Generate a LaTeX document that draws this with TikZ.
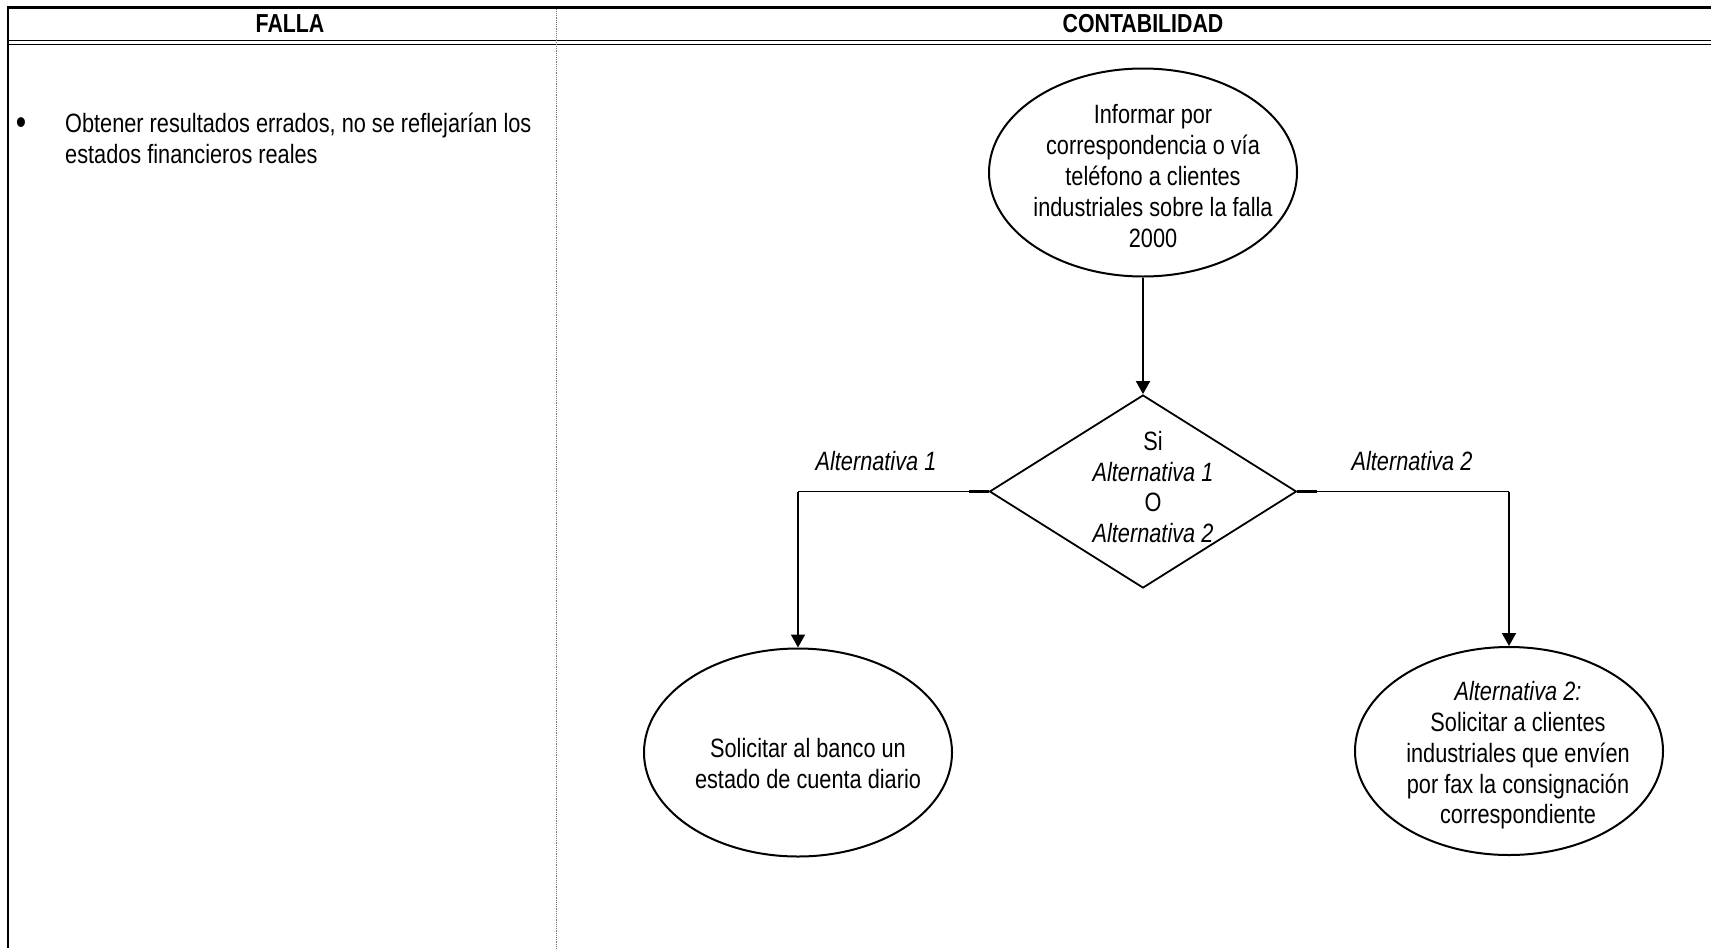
\documentclass[tikz,border=0pt]{standalone}
\usepackage{fontspec}
\setmainfont{Liberation Sans}[FakeStretch=0.82]
\usetikzlibrary{shapes.geometric,arrows.meta}

\begin{document}
\begin{tikzpicture}[x=1pt,y=-1pt,
  every node/.style={inner sep=0pt, font=\fontsize{26.5}{30.8}\selectfont},
  frame/.style={line width=2.5pt, line join=miter},
  rule/.style={line width=1.5pt},
  colsep/.style={line width=1.2pt, densely dotted, black!55},
  headtext/.style={font=\fontsize{26}{30}\selectfont\bfseries},
  bodytext/.style={align=left},
  bulletmark/.style={font=\fontsize{36}{36}\selectfont},
  celltext/.style={align=center},
  alttext/.style={font=\fontsize{26.5}{30.8}\selectfont\itshape},
  procbox/.style={ellipse, draw, line width=2pt, minimum width=308pt, minimum height=208pt},
  decision/.style={diamond, draw, line width=1.8pt, minimum width=307pt, minimum height=193pt},
  arr/.style={line width=1.8pt, -{Triangle[width=14pt,length=13pt]}},
  thinline/.style={line width=1pt},
  stub/.style={line width=2.2pt}
]
\useasboundingbox (0,0) rectangle (1711,948);

% table frame: outer rule, header rules, column separator
\draw[frame] (8,948) -- (8,7.5) -- (1711,7.5);
\draw[rule] (8,40.5) -- (1711,40.5);
\draw[rule] (8,44.5) -- (1711,44.5);
\draw[colsep] (556.5,8.5) -- (556.5,948);

% column headings
\node[headtext] (hfalla) at (290,24) {FALLA};
\node[headtext] (hconta) at (1143,24) {CONTABILIDAD};

% left column entry
\node[bulletmark, anchor=base] (bul) at (21,134) {•};
\node[bodytext, anchor=north west] (fallatext) at (65,113)
  {Obtener resultados errados, no se reflejarían los\\estados financieros reales};

% flowchart shapes
\node[procbox] (e1) at (1143,172.5) {};
\node[celltext] (t1) at (1153,176)
  {Informar por\\correspondencia o vía\\teléfono a clientes\\industriales sobre la falla\\2000};

\node[decision] (dia) at (1143,491.5) {};
\node[celltext] (tdia) at (1153,487)
  {Si\\\textit{Alternativa 1}\\O\\\textit{Alternativa 2}};

\node[procbox] (e2) at (798,752.5) {};
\node[celltext] (t2) at (808,763.5)
  {Solicitar al banco un\\estado de cuenta diario};

\node[procbox] (e3) at (1509,751) {};
\node[celltext] (t3) at (1518,755.5)
  {\textit{Alternativa 2:}\\Solicitar a clientes\\industriales que envíen\\por fax la consignación\\correspondiente};

% branch labels
\node[alttext] (lab1) at (876,461) {Alternativa 1};
\node[alttext] (lab2) at (1412,461) {Alternativa 2};

% connectors
\draw[arr] (e1.south) -- (dia.north);

\coordinate (b1) at (e2.north |- dia.west);
\coordinate (b2) at (e3.north |- dia.east);
\draw[thinline] (dia.west) -- (b1);
\draw[thinline] (dia.east) -- (b2);
\draw[stub] (dia.west) -- ++(-20,0);
\draw[stub] (dia.east) -- ++(20,0);
\draw[arr] (b1) -- (e2.north);
\draw[arr] (b2) -- (e3.north);
\end{tikzpicture}
\end{document}
